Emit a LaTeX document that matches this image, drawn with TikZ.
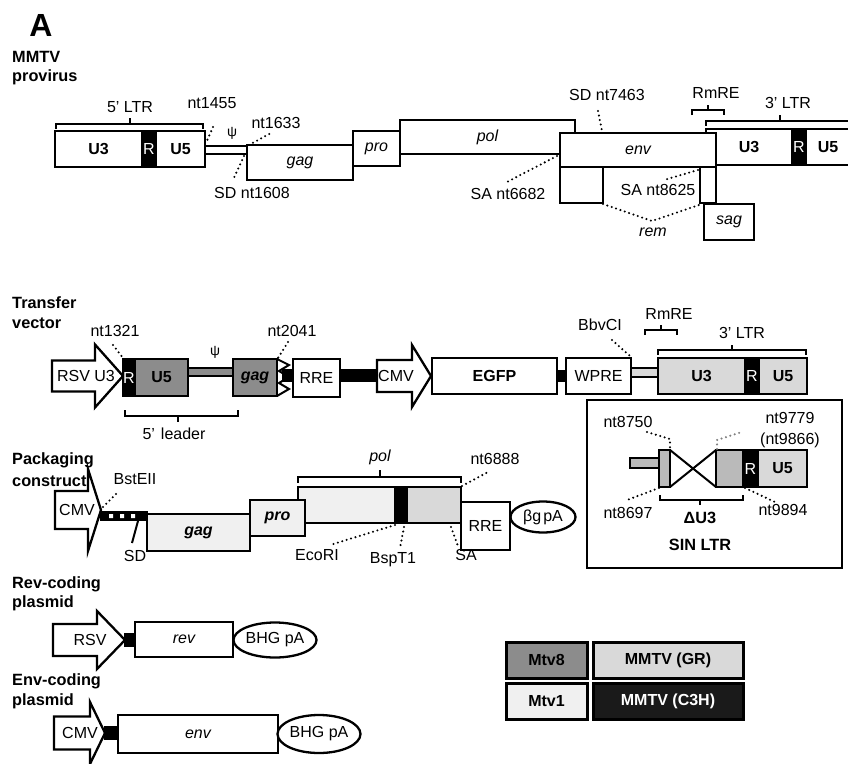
\documentclass[tikz,border=0pt]{standalone}
\usepackage{fontspec}
\setmainfont{Liberation Sans}
\usetikzlibrary{fit,shapes.geometric}
\definecolor{mtveight}{HTML}{8C8C8C}
\definecolor{grc}{HTML}{D9D9D9}
\definecolor{mtvone}{HTML}{F0F0F0}
\definecolor{sinmid}{HTML}{BABABA}
\definecolor{c3h}{HTML}{1A1A1A}
\tikzset{
 box/.style={draw, line width=2.3pt, inner sep=0pt, outer sep=0pt, fill=white},
 lab/.style={font=\fontsize{16}{18}\selectfont, inner sep=0pt},
 bl/.style={font=\fontsize{16.3}{18}\bfseries\selectfont, inner sep=0pt},
 dotl/.style={line width=2.3pt, line cap=round, dash pattern=on 0pt off 4.6pt},
 brk/.style={line width=2pt},
 pa/.style={draw, ellipse, line width=2.3pt, inner sep=0pt, fill=white, font=\fontsize{16}{18}\selectfont},
}
\newcommand\bx[5][]{\node[box,#1,fit={#3 #4}] (#2) {}; \node[lab] (#2t) at (#2.center) {#5};}
\newcommand\dl[3]{\coordinate (#1a) at #2; \coordinate (#1b) at #3; \draw[dotl] (#1a) -- (#1b);}
\newcommand\brk[7]{\coordinate (#1a) at (#2,#5); \coordinate (#1b) at (#3,#5); \coordinate (#1m) at (#6,#4); \coordinate (#1t) at (#6,#7);
 \draw[brk] (#1a) -- (#2,#4) -- (#3,#4) -- (#1b); \draw[brk] (#1m) -- (#1t);}
\newcommand\parr[9]{\draw[line width=2.3pt, fill=white] (#2,#5-#6) -- (#3,#5-#6) -- (#3,#5-#7) -- (#4,#5) -- (#3,#5+#7) -- (#3,#5+#6) -- (#2,#5+#6) -- cycle; \node[lab] (#1) at (#8,#5) {#9};}
\newcommand\wt[1]{\textcolor{white}{#1}}
\begin{document}
\begin{tikzpicture}[x=1pt,y=-1pt]
\useasboundingbox (0,0) rectangle (848,763);
% ---------------- MMTV provirus
\node[font=\fontsize{32}{34}\bfseries\selectfont, inner sep=0pt] (A) at (41,25) {A};
\node[bl, anchor=base west] (t1a) at (12,62) {MMTV};
\node[bl, anchor=base west] (t1b) at (12,81) {provirus};
\bx{u3a}{(55,131)}{(142,167)}{\bfseries U3}
\bx[fill=black]{ra}{(142,131)}{(156,167)}{\wt{R}}
\bx{u5a}{(156,131)}{(205,167)}{\bfseries U5}
\bx{psia}{(205,146)}{(247,154)}{}
\bx{gaga}{(247,145)}{(353,180)}{\itshape gag}
\bx{proa}{(353,131)}{(400,166)}{\itshape pro}
\bx{pola}{(400,120)}{(575,154)}{\itshape pol}
\bx{u3b}{(706,129)}{(792,165)}{\bfseries U3}
\bx[fill=black]{rb}{(792,129)}{(806,165)}{\wt{R}}
\bx{u5b}{(806,129)}{(850,165)}{\bfseries U5}
\bx{enva}{(560,133)}{(716,167)}{\itshape env}
\bx{rema}{(560,167)}{(603,203)}{}
\bx{remb}{(700,167)}{(716,203)}{}
\bx{saga}{(704,204)}{(754,240)}{\itshape sag}
\brk{b5ltr}{56}{203}{124}{129}{130}{118}
\node[lab] (l5ltr) at (130,107) {5’ LTR};
\brk{brmre}{692}{724}{110}{115}{708}{105}
\node[lab] (lrmre) at (716,93) {RmRE};
\brk{b3ltr}{706}{870}{121}{126}{780}{115}
\node[lab] (l3ltr) at (788,103) {3’ LTR};
\node[lab] (n1455) at (212,103) {nt1455}; \dl{d1}{(213,127)}{(206,143)}
\node[lab, font=\fontsize{14}{16}\selectfont] (psil) at (232,133) {ψ};
\node[lab] (n1633) at (276,123) {nt1633}; \dl{d2}{(249,145)}{(271,133)}
\node[lab] (sd1608) at (252,193) {SD nt1608}; \dl{d3}{(244,156)}{(233,180)}
\node[lab] (sd7463) at (607,95) {SD nt7463}; \dl{d4}{(598,111)}{(602,131)}
\node[lab] (sa6682) at (508,194) {SA nt6682}; \dl{d5}{(557,156)}{(505,183)}
\node[lab] (sa8625) at (658,190) {SA nt8625}; \dl{d6}{(698,170)}{(664,180)}
\coordinate (rv1) at (603,204); \coordinate (rv2) at (652,221); \coordinate (rv3) at (699,205);
\draw[dotl] (rv1) -- (rv2) -- (rv3);
\node[lab] (remt) at (653,232) {\itshape rem};
% ---------------- Transfer vector
\node[bl, anchor=base west] (t2a) at (12,308) {Transfer};
\node[bl, anchor=base west] (t2b) at (12,328) {vector};
\parr{rsvu}{52}{95}{123}{376}{15.5}{31.5}{86}{RSV U3}
\bx[fill=black]{rt}{(123,359)}{(135,396)}{\wt{R}}
\bx[fill=mtveight]{u5t}{(135,359)}{(188,396)}{\bfseries U5}
\bx[fill=mtveight]{psit}{(188,368)}{(233,376)}{}
\node[lab, font=\fontsize{14}{16}\selectfont] (psitl) at (215,352) {ψ};
\bx[fill=black]{jt}{(283,370)}{(293,381)}{}
\bx[fill=mtveight]{gagt}{(233,359)}{(277,396)}{\bfseries\itshape gag}
\draw[line width=2pt] (gagt.north east) -- (289,365) -- (279,371) -- (289,377) -- (279,383) -- (289,389) -- (gagt.south east);
\bx{rret}{(293,359)}{(340,397)}{RRE}
\bx[fill=black]{jt2}{(340,370)}{(378,381)}{}
\parr{cmvt}{377}{412}{431}{376}{16}{31}{396}{CMV}
\bx{egfp}{(432,358)}{(557,394)}{\bfseries EGFP}
\bx[fill=black]{jt3}{(557,371)}{(566,381)}{}
\bx{wpre}{(566,358)}{(631,394)}{WPRE}
\bx[fill=grc]{bart}{(631,368)}{(658,377)}{}
\bx[fill=grc]{u3t}{(658,358)}{(745,394)}{\bfseries U3}
\bx[fill=black]{rt2}{(745,358)}{(759,394)}{\wt{R}}
\bx[fill=grc]{u5t2}{(759,358)}{(807,394)}{\bfseries U5}
\node[lab] (n1321) at (115,331) {nt1321}; \dl{d7}{(113,345)}{(123,358)}
\node[lab] (n2041) at (292,331) {nt2041}; \dl{d8}{(288,342)}{(278,358)}
\node[lab] (bbv) at (600,325) {BbvCI}; \dl{d9}{(612,340)}{(630,356)}
\node[lab] (rmret) at (669,314) {RmRE};
\brk{brmret}{645}{677}{330}{335}{661}{325}
\node[lab] (ltr3t) at (742,333) {3’ LTR};
\brk{bltr3t}{658}{806}{350}{355}{732}{345}
\brk{blead}{125}{238}{416}{410}{178}{422}
\node[lab] (lead) at (174,434) {5’\hspace{6pt}leader};
% ---------------- Packaging construct
\node[bl, anchor=base west] (t3a) at (12,464) {Packaging};
\node[bl, anchor=base west] (t3b) at (12,486) {construct};
\parr{cmvp}{55}{88}{101}{510}{19}{41}{77}{CMV}
\bx[fill=black]{sdb}{(101,512)}{(147,520)}{}
\fill[white] (109,514) rectangle (113,518) (120,514) rectangle (124,518) (131,514) rectangle (135,518);
\node[lab] (bst) at (135,479) {BstEII}; \dl{d10}{(103,507)}{(118,492)}
\coordinate (sdl1) at (138,521); \coordinate (sdl2) at (132,543);
\draw[line width=2pt] (sdl1) -- (sdl2);
\node[lab] (sdl) at (135,556) {SD};
\bx[fill=mtvone]{gagp}{(147,514)}{(250,551)}{\bfseries\itshape gag}
\bx[fill=mtvone]{polp1}{(298,487)}{(395,523)}{}
\bx[fill=black]{bandp}{(395,487)}{(407,523)}{}
\bx[fill=grc]{polp2}{(407,487)}{(461,523)}{}
\bx[fill=mtvone]{prop}{(250,500)}{(305,536)}{\bfseries\itshape pro}
\bx{rrep}{(461,502)}{(510,550)}{RRE}
\node[pa, minimum width=65pt, minimum height=31pt] (bgpa) at (543,517) {βg\hspace{2pt}pA};
\brk{bpol}{298}{461}{477}{483}{380}{470}
\node[lab] (poll) at (380,457) {\itshape pol};
\node[lab] (n6888) at (495,459) {nt6888}; \dl{d11}{(462,486)}{(488,472)}
\node[lab] (ecor) at (317,555) {EcoRI}; \dl{d12}{(395,525)}{(330,545)}
\node[lab] (bspt) at (393,560) {BspT1}; \dl{d13}{(404,527)}{(400,548)}
\node[lab] (sap) at (466,555) {SA}; \dl{d14}{(451,527)}{(458,546)}
% ---------------- SIN LTR
\node[draw, line width=1.6pt, fit={(587,400)(842,568)}, inner sep=0pt] (sinbox) {};
\bx[fill=sinmid]{stick}{(630,458)}{(660,468)}{}
\bx[fill=sinmid]{sb1}{(659,450)}{(670,487)}{}
\bx[fill=sinmid]{sb2}{(716,450)}{(743,487)}{}
\bx[fill=black]{sr}{(743,450)}{(758,487)}{\wt{R}}
\bx[fill=grc]{su5}{(758,450)}{(807,487)}{\bfseries U5}
\draw[line width=2pt] (sb1.north east) -- (sb2.south west);
\draw[line width=2pt] (sb1.south east) -- (sb2.north west);
\node[lab] (n8750) at (628,422) {nt8750};
\node[lab] (n9779) at (790,418) {nt9779};
\node[lab] (n9866) at (790,440) {(nt9866)};
\node[lab] (n8697) at (628,513) {nt8697};
\node[lab] (n9894) at (783,510) {nt9894};
\coordinate (e1) at (647,432); \coordinate (e2) at (670,439); \coordinate (e3) at (670,450);
\draw[dotl] (e1) -- (e2) -- (e3);
\coordinate (f1) at (717,449); \coordinate (f2) at (717,440); \coordinate (f3) at (742,432);
\draw[dotl, gray] (f1) -- (f2) -- (f3);
\dl{d15}{(659,488)}{(627,500)}
\dl{d16}{(745,488)}{(775,502)}
\brk{bdu3}{660}{743}{500}{495}{700}{505}
\node[bl] (du3) at (700,518) {ΔU3};
\node[bl] (sinl) at (700,545) {SIN LTR};
% ---------------- Rev-coding plasmid
\node[bl, anchor=base west] (t4a) at (12,588) {Rev-coding};
\node[bl, anchor=base west] (t4b) at (12,607) {plasmid};
\parr{rsvr}{53}{97}{125}{640}{16}{29}{90}{RSV}
\bx[fill=black]{jr}{(125,634)}{(135,646)}{}
\bx{revb}{(135,622)}{(233,657)}{\itshape rev}
\node[pa, minimum width=80pt, minimum height=35pt] (bhg1) at (275,640) {BHG pA};
% ---------------- Env-coding plasmid
\node[bl, anchor=base west] (t5a) at (12,685) {Env-coding};
\node[bl, anchor=base west] (t5b) at (12,705) {plasmid};
\parr{cmve}{54}{90}{105}{733}{16.5}{31}{80}{CMV}
\bx[fill=black]{je}{(105,727)}{(118,739)}{}
\bx{envb}{(118,715)}{(278,753)}{\itshape env}
\node[pa, minimum width=82pt, minimum height=38pt] (bhg2) at (319,734) {BHG pA};
% ---------------- Legend
\bx[fill=mtveight, line width=3pt]{lg1}{(506,642)}{(587,678)}{\bfseries Mtv8}
\bx[fill=grc, line width=3pt]{lg2}{(593,642)}{(743,678)}{\bfseries MMTV (GR)}
\bx[fill=mtvone, line width=3pt]{lg3}{(506,683)}{(587,719)}{\bfseries Mtv1}
\bx[fill=c3h, line width=3pt]{lg4}{(593,683)}{(743,719)}{\wt{\bfseries MMTV (C3H)}}
\end{tikzpicture}
\end{document}
